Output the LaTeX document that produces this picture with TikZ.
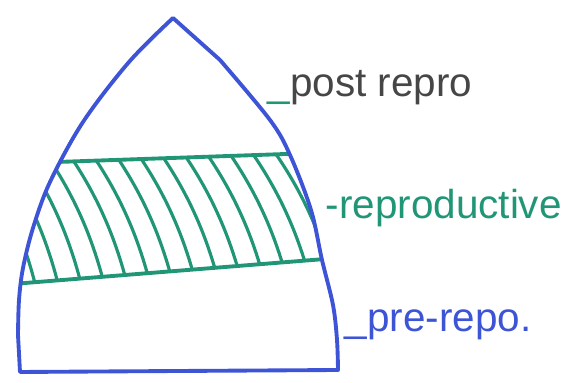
\documentclass[tikz,border=0pt]{standalone}
\usepackage{fontspec}
\setmainfont{Liberation Sans}
\definecolor{inkblue}{RGB}{62,84,214}
\definecolor{inkgreen}{RGB}{32,150,118}
\definecolor{inkgray}{RGB}{70,70,70}
\begin{document}
\begin{tikzpicture}[x=0.01cm,y=-0.01cm,
  outline/.style={draw=inkblue,line width=1.1pt,line join=round},
  bandline/.style={draw=inkgreen,line width=1.1pt},
  hatchline/.style={draw=inkgreen,line width=0.9pt},
  lbl/.style={anchor=west,inner sep=0pt,font=\fontsize{11.5}{13}\selectfont}]
\useasboundingbox (0,0) rectangle (573,383);
% outline shape
\def\outlinepath{(20,372) -- plot[smooth,tension=0.55] coordinates {(18,335) (19,300) (23,268) (33,228) (50,182) (83,122) (129,62) (173,18)}
  -- plot[smooth,tension=0.55] coordinates {(220,60) (270,120) (290,155) (311,210) (322,260) (333,305) (337,340) (338,370)} -- cycle}
% hatching in band
\begin{scope}
  \clip \outlinepath;
  \clip (0,164) -- (400,150) -- (400,254) -- (0,286) -- cycle;
  \foreach \x in {-110,-87,...,320} {
    \draw[hatchline] (\x,130) .. controls (\x+48,190) and (\x+70,250) .. (\x+82,310);
  }
\end{scope}
\begin{scope}
  \clip \outlinepath;
  \draw[bandline] (0,164) -- (400,150);
  \draw[bandline] (0,285) -- (400,253);
\end{scope}
\draw[outline] \outlinepath;
% labels
\node[lbl,text=inkgray] (post) at (267,88) {{\color{inkgreen}\_}post repro};
\node[lbl,text=inkgreen] (repro) at (325,208) {-reproductive};
\node[lbl,text=inkblue] (pre) at (344,325) {\_pre-repo.};
\end{tikzpicture}
\end{document}
